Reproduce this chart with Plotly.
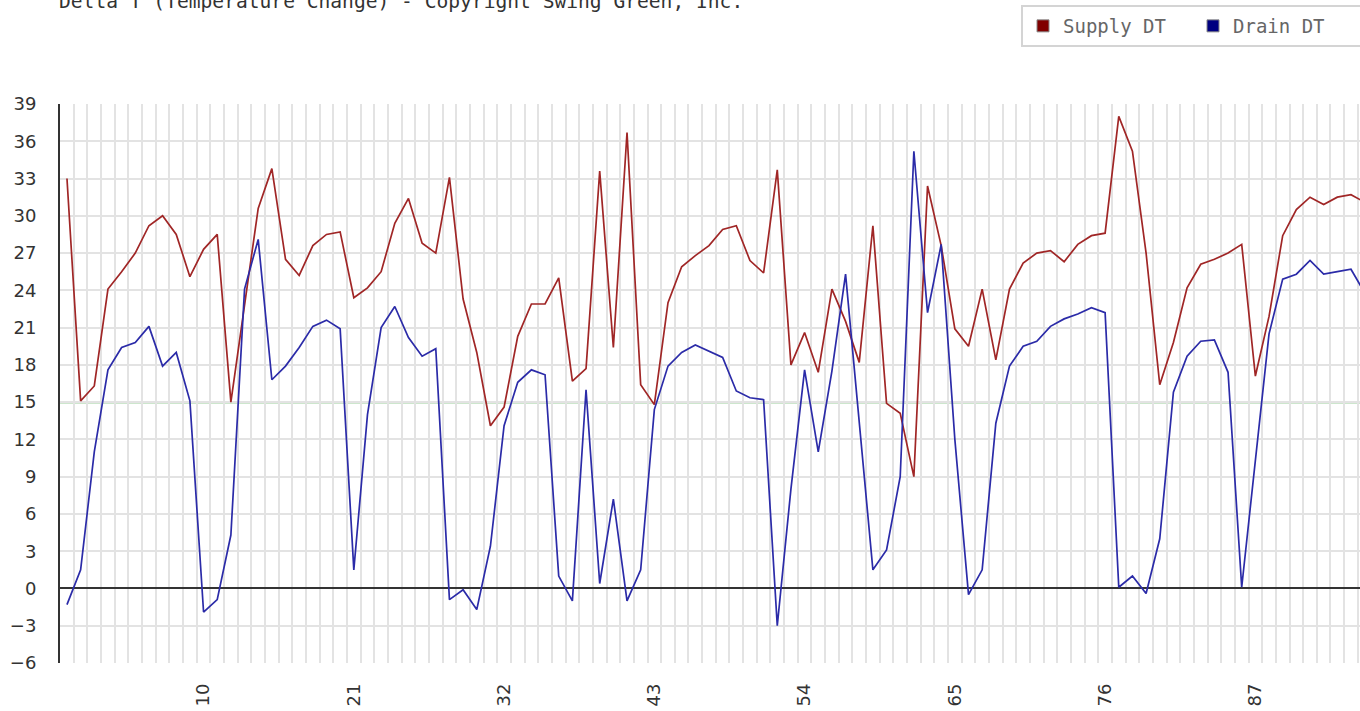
import plotly.graph_objects as go

# ---------------- data ----------------
index = list(range(96))

supply_dt = [33.0, 15.1, 16.3, 24.1, 25.5, 27.0, 29.2, 30.0, 28.5, 25.1,
             27.3, 28.5, 15.0, 22.8, 30.6, 33.8, 26.5, 25.2, 27.6, 28.5,
             28.7, 23.4, 24.2, 25.5, 29.4, 31.4, 27.8, 27.0, 33.1, 23.3,
             19.0, 13.1, 14.6, 20.3, 22.9, 22.9, 25.0, 16.7, 17.7, 33.6,
             19.4, 36.7, 16.4, 14.8, 23.0, 25.9, 26.8, 27.6, 28.9, 29.2,
             26.4, 25.4, 33.7, 18.0, 20.6, 17.4, 24.1, 21.5, 18.2, 29.2,
             14.9, 14.1, 9.0, 32.4, 27.6, 20.9, 19.5, 24.1, 18.4, 24.1,
             26.2, 27.0, 27.2, 26.3, 27.7, 28.4, 28.6, 38.0, 35.2, 27.0,
             16.4, 19.8, 24.2, 26.1, 26.5, 27.0, 27.7, 17.1, 21.9, 28.4,
             30.5, 31.5, 30.9, 31.5, 31.7, 31.1]

drain_dt = [-1.3, 1.5, 11.0, 17.6, 19.4, 19.8, 21.1, 17.9, 19.0, 15.1,
            -1.9, -0.9, 4.3, 24.1, 28.1, 16.8, 17.9, 19.4, 21.1, 21.6,
            20.9, 1.5, 14.0, 21.0, 22.7, 20.2, 18.7, 19.3, -0.9, -0.1,
            -1.7, 3.4, 13.1, 16.6, 17.6, 17.2, 1.0, -1.0, 16.0, 0.4,
            7.2, -1.0, 1.5, 14.4, 17.9, 19.0, 19.6, 19.1, 18.6, 15.9,
            15.35, 15.2, -3.0, 8.0, 17.6, 11.0, 17.5, 25.3, 13.3, 1.5,
            3.1, 9.0, 35.2, 22.2, 27.7, 12.0, -0.5, 1.5, 13.3, 17.9,
            19.5, 19.9, 21.1, 21.7, 22.1, 22.6, 22.2, 0.1, 1.0, -0.4,
            4.0, 15.8, 18.7, 19.9, 20.0, 17.4, 0.1, 10.4, 20.5, 24.9,
            25.3, 26.4, 25.3, 25.5, 25.7, 23.8]

x_tick_values = [10, 21, 32, 43, 54, 65, 76, 87]
x_tick_labels = ["10", "21", "32", "43", "54", "65", "76", "87"]
target_dt = 15

title_text = "Delta T (Temperature Change) - Copyright Swing Green, Inc."
series_names = ["Supply DT", "Drain DT"]

# ---------------- styles ----------------
RED_LINE = "#a02626"
BLUE_LINE = "#2b2ba8"
RED_KEY = "#800000"
BLUE_KEY = "#000080"
GRID = "#e3e3e3"
MONO = "DejaVu Sans Mono"
SANS = "DejaVu Sans"

W, H = 1360, 711
L, T, B = 60, 104, 48
PW, PH = W - L, H - T - B

fig = go.Figure()

fig.add_trace(go.Scatter(x=index, y=supply_dt, mode="lines", name=series_names[0],
                         line=dict(color=RED_LINE, width=1.7), showlegend=False,
                         hoverinfo="skip"))
fig.add_trace(go.Scatter(x=index, y=drain_dt, mode="lines", name=series_names[1],
                         line=dict(color=BLUE_LINE, width=1.7), showlegend=False,
                         hoverinfo="skip"))

# legend keys (square swatches)
for name, col in zip(series_names, [RED_KEY, BLUE_KEY]):
    fig.add_trace(go.Scatter(x=[None], y=[None], mode="markers", name=name,
                             marker=dict(symbol="square", size=12, color=col,
                                         line=dict(color="#888888", width=1)),
                             showlegend=True))

fig.add_hline(y=target_dt, line=dict(color="#3a9a3a", width=2), layer="below")

fig.update_layout(
    width=W, height=H,
    margin=dict(l=L, r=0, t=T, b=B, autoexpand=False),
    paper_bgcolor="white", plot_bgcolor="white",
    showlegend=True,
    legend=dict(orientation="h", x=(1021 - L) / PW, xanchor="left",
                y=1 + (T - 5) / PH, yanchor="top",
                bgcolor="white", bordercolor="#d4d4d4", borderwidth=2,
                font=dict(family=MONO, size=19, color="#666666"),
                entrywidth=125, entrywidthmode="pixels",
                itemwidth=30),
    annotations=[dict(text=title_text, xref="paper", yref="paper",
                      x=(57 - L) / PW, xanchor="left",
                      y=1 + (T - 15) / PH, yanchor="bottom",
                      showarrow=False,
                      font=dict(family=MONO, size=19.6, color="#333333"))],
    xaxis=dict(range=[-0.51, 94.66], tickmode="array",
               tickvals=x_tick_values, ticktext=x_tick_labels,
               tickangle=-90, showgrid=False, zeroline=False,
               showline=False, ticks="", ticklabelstandoff=16,
               tickfont=dict(family=SANS, size=18, color="#333333"),
               minor=dict(tickmode="linear", tick0=0.5, dtick=1, showgrid=True,
                          gridcolor=GRID, gridwidth=2, ticks=""),
               fixedrange=True),
    yaxis=dict(range=[-6, 39], tickmode="linear", tick0=-6, dtick=3,
               showgrid=True, gridcolor=GRID, gridwidth=2,
               zeroline=True, zerolinecolor="#333333", zerolinewidth=2,
               showline=True, linecolor="#333333", linewidth=2,
               ticks="", ticklabelstandoff=18,
               tickfont=dict(family=SANS, size=18, color="#333333"),
               fixedrange=True),
)

fig.write_html("out.html",
               config={"displayModeBar": False, "staticPlot": True},
               post_script="document.body.style.margin='0';document.body.style.overflow='hidden';")
